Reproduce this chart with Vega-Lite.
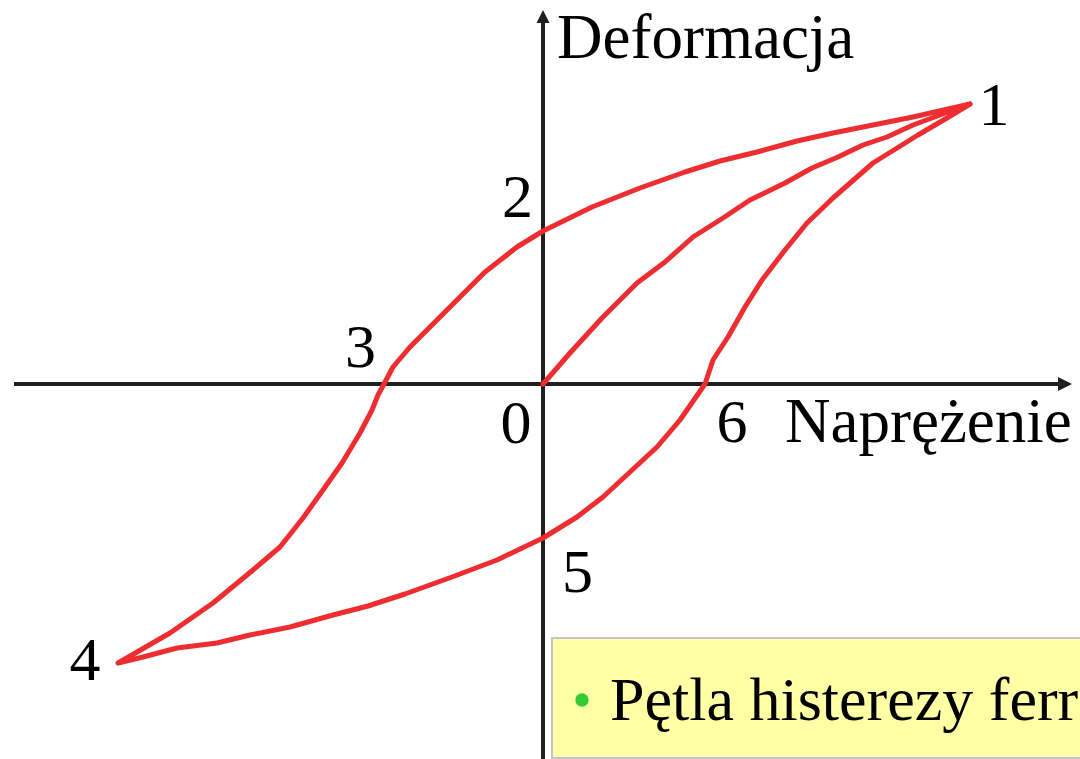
{
  "$schema": "https://vega.github.io/schema/vega-lite/v6.json",
  "width": 1080,
  "height": 759,
  "autosize": "none",
  "padding": 0,
  "background": "white",
  "config": {"view": {"stroke": null}},
  "datasets": {
    "curve": [
      {"branch": "loop", "i": 1, "s": 427, "d": 280},
      {"branch": "loop", "i": 2, "s": 370, "d": 267},
      {"branch": "loop", "i": 3, "s": 330, "d": 259},
      {"branch": "loop", "i": 4, "s": 290, "d": 251},
      {"branch": "loop", "i": 5, "s": 254, "d": 243},
      {"branch": "loop", "i": 6, "s": 214, "d": 232},
      {"branch": "loop", "i": 7, "s": 177, "d": 223},
      {"branch": "loop", "i": 8, "s": 142, "d": 212},
      {"branch": "loop", "i": 9, "s": 97, "d": 196},
      {"branch": "loop", "i": 10, "s": 49, "d": 177},
      {"branch": "loop", "i": 11, "s": 0, "d": 153},
      {"branch": "loop", "i": 12, "s": -26, "d": 137},
      {"branch": "loop", "i": 13, "s": -58, "d": 112},
      {"branch": "loop", "i": 14, "s": -86, "d": 84},
      {"branch": "loop", "i": 15, "s": -111, "d": 59},
      {"branch": "loop", "i": 16, "s": -133, "d": 37},
      {"branch": "loop", "i": 17, "s": -150, "d": 17},
      {"branch": "loop", "i": 18, "s": -159, "d": 0},
      {"branch": "loop", "i": 19, "s": -165, "d": -11},
      {"branch": "loop", "i": 20, "s": -171, "d": -26},
      {"branch": "loop", "i": 21, "s": -183, "d": -49},
      {"branch": "loop", "i": 22, "s": -201, "d": -79},
      {"branch": "loop", "i": 23, "s": -220, "d": -106},
      {"branch": "loop", "i": 24, "s": -240, "d": -134},
      {"branch": "loop", "i": 25, "s": -263, "d": -163},
      {"branch": "loop", "i": 26, "s": -290, "d": -186},
      {"branch": "loop", "i": 27, "s": -330, "d": -219},
      {"branch": "loop", "i": 28, "s": -373, "d": -249},
      {"branch": "loop", "i": 29, "s": -425, "d": -279},
      {"branch": "loop", "i": 30, "s": -400, "d": -273},
      {"branch": "loop", "i": 31, "s": -366, "d": -264},
      {"branch": "loop", "i": 32, "s": -326, "d": -259},
      {"branch": "loop", "i": 33, "s": -293, "d": -251},
      {"branch": "loop", "i": 34, "s": -253, "d": -243},
      {"branch": "loop", "i": 35, "s": -210, "d": -231},
      {"branch": "loop", "i": 36, "s": -175, "d": -222},
      {"branch": "loop", "i": 37, "s": -138, "d": -210},
      {"branch": "loop", "i": 38, "s": -91, "d": -193},
      {"branch": "loop", "i": 39, "s": -46, "d": -176},
      {"branch": "loop", "i": 40, "s": 0, "d": -154},
      {"branch": "loop", "i": 41, "s": 34, "d": -133},
      {"branch": "loop", "i": 42, "s": 60, "d": -113},
      {"branch": "loop", "i": 43, "s": 87, "d": -88},
      {"branch": "loop", "i": 44, "s": 114, "d": -63},
      {"branch": "loop", "i": 45, "s": 137, "d": -36},
      {"branch": "loop", "i": 46, "s": 162, "d": 0},
      {"branch": "loop", "i": 47, "s": 170, "d": 24},
      {"branch": "loop", "i": 48, "s": 185, "d": 47},
      {"branch": "loop", "i": 49, "s": 202, "d": 77},
      {"branch": "loop", "i": 50, "s": 219, "d": 104},
      {"branch": "loop", "i": 51, "s": 242, "d": 134},
      {"branch": "loop", "i": 52, "s": 264, "d": 161},
      {"branch": "loop", "i": 53, "s": 290, "d": 186},
      {"branch": "loop", "i": 54, "s": 330, "d": 221},
      {"branch": "loop", "i": 55, "s": 375, "d": 249},
      {"branch": "loop", "i": 56, "s": 404, "d": 266},
      {"branch": "loop", "i": 57, "s": 427, "d": 280},
      {"branch": "initial", "i": 1, "s": 0, "d": 0},
      {"branch": "initial", "i": 2, "s": 27, "d": 31},
      {"branch": "initial", "i": 3, "s": 59, "d": 66},
      {"branch": "initial", "i": 4, "s": 94, "d": 101},
      {"branch": "initial", "i": 5, "s": 122, "d": 122},
      {"branch": "initial", "i": 6, "s": 150, "d": 147},
      {"branch": "initial", "i": 7, "s": 180, "d": 166},
      {"branch": "initial", "i": 8, "s": 207, "d": 184},
      {"branch": "initial", "i": 9, "s": 242, "d": 201},
      {"branch": "initial", "i": 10, "s": 269, "d": 216},
      {"branch": "initial", "i": 11, "s": 295, "d": 227},
      {"branch": "initial", "i": 12, "s": 320, "d": 239},
      {"branch": "initial", "i": 13, "s": 344, "d": 247},
      {"branch": "initial", "i": 14, "s": 370, "d": 259},
      {"branch": "initial", "i": 15, "s": 397, "d": 269},
      {"branch": "initial", "i": 16, "s": 427, "d": 280}
    ],
    "axes": [
      {"name": "stress", "x1": -529, "x2": 516, "y1": 0, "y2": 0},
      {"name": "strain", "x1": 0, "x2": 0, "y1": -376, "y2": 362}
    ],
    "arrowX": [{"s": 522, "d": 0}],
    "arrowY": [{"s": 0, "d": 367.5}],
    "digits": [
      {"t": "1", "s": 451, "d": 259},
      {"t": "2", "s": -25.5, "d": 167},
      {"t": "3", "s": -182.5, "d": 17},
      {"t": "0", "s": -27, "d": -59},
      {"t": "4", "s": -458, "d": -296},
      {"t": "5", "s": 34.5, "d": -208},
      {"t": "6", "s": 189, "d": -58}
    ],
    "titles": [
      {"t": "Deformacja", "s": 14, "d": 326},
      {"t": "Naprężenie", "s": 242, "d": -58}
    ],
    "box": [{"x1": 9, "x2": 545, "y1": -254, "y2": -374}],
    "bullet": [{"s": 39, "d": -316}],
    "note": [{"t": "Pętla histerezy ferroelastyka", "s": 67, "d": -336}]
  },
  "layer": [
    {
      "data": {"name": "box"},
      "mark": {"type": "rect", "fill": "#FFFFA6", "stroke": "#C4C4C4", "strokeWidth": 2},
      "encoding": {
        "x": {"field": "x1", "type": "quantitative", "scale": {"domain": [-543, 537], "nice": false, "zero": false}, "axis": null},
        "x2": {"field": "x2"},
        "y": {"field": "y1", "type": "quantitative", "scale": {"domain": [-375, 384], "nice": false, "zero": false}, "axis": null},
        "y2": {"field": "y2"}
      }
    },
    {
      "data": {"name": "axes"},
      "mark": {"type": "rule", "stroke": "#231F20", "strokeWidth": 4},
      "encoding": {
        "x": {"field": "x1", "type": "quantitative"},
        "x2": {"field": "x2"},
        "y": {"field": "y1", "type": "quantitative"},
        "y2": {"field": "y2"}
      }
    },
    {
      "data": {"name": "arrowX"},
      "mark": {"type": "point", "shape": "M -1 -1 L 1 0 L -1 1 Z", "size": 196, "filled": true, "color": "#231F20", "opacity": 1},
      "encoding": {
        "x": {"field": "s", "type": "quantitative"},
        "y": {"field": "d", "type": "quantitative"}
      }
    },
    {
      "data": {"name": "arrowY"},
      "mark": {"type": "point", "shape": "M -1 1 L 0 -1 L 1 1 Z", "size": 169, "filled": true, "color": "#231F20", "opacity": 1},
      "encoding": {
        "x": {"field": "s", "type": "quantitative"},
        "y": {"field": "d", "type": "quantitative"}
      }
    },
    {
      "data": {"name": "curve"},
      "mark": {"type": "line", "stroke": "#EE2D31", "strokeWidth": 5, "strokeJoin": "round", "strokeCap": "round"},
      "encoding": {
        "x": {"field": "s", "type": "quantitative"},
        "y": {"field": "d", "type": "quantitative"},
        "detail": {"field": "branch", "type": "nominal"},
        "order": {"field": "i", "type": "quantitative"}
      }
    },
    {
      "data": {"name": "digits"},
      "mark": {"type": "text", "font": "Liberation Serif", "fontSize": 62, "align": "center", "baseline": "alphabetic", "color": "black"},
      "encoding": {
        "x": {"field": "s", "type": "quantitative"},
        "y": {"field": "d", "type": "quantitative"},
        "text": {"field": "t"}
      }
    },
    {
      "data": {"name": "titles"},
      "mark": {"type": "text", "font": "Liberation Serif", "fontSize": 63, "align": "left", "baseline": "alphabetic", "color": "black"},
      "encoding": {
        "x": {"field": "s", "type": "quantitative"},
        "y": {"field": "d", "type": "quantitative"},
        "text": {"field": "t"}
      }
    },
    {
      "data": {"name": "bullet"},
      "mark": {"type": "point", "shape": "circle", "size": 180, "filled": true, "color": "#33CC33", "opacity": 1},
      "encoding": {
        "x": {"field": "s", "type": "quantitative"},
        "y": {"field": "d", "type": "quantitative"}
      }
    },
    {
      "data": {"name": "note"},
      "mark": {"type": "text", "font": "Liberation Serif", "fontSize": 62, "align": "left", "baseline": "alphabetic", "color": "black", "clip": true},
      "encoding": {
        "x": {"field": "s", "type": "quantitative"},
        "y": {"field": "d", "type": "quantitative"},
        "text": {"field": "t"}
      }
    }
  ]
}
